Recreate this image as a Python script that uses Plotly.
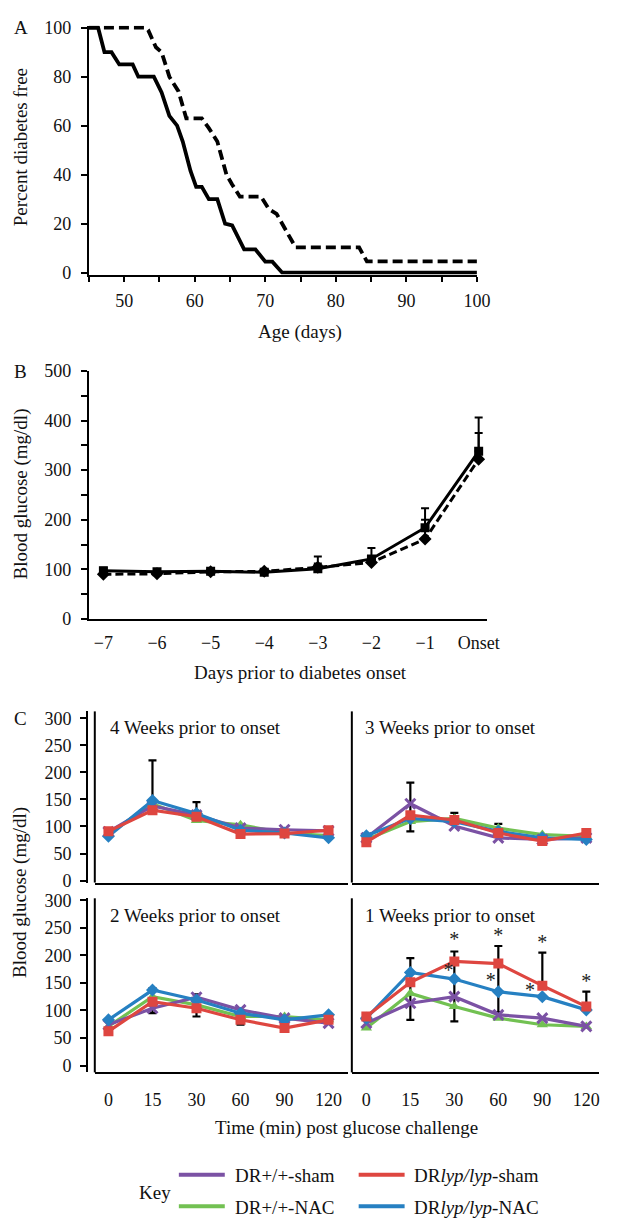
import plotly.graph_objects as go

W, H = 617, 1228
FONT = "Liberation Serif"

def fx(p):
    return p / W

def fy(p):
    return 1 - p / H

# ---------------- Panel A data (Kaplan-Meier style curves) ----------------
a_solid_age = [45, 46.3, 47.2, 48.2, 49.3, 51.2, 52, 54.2, 55.3, 56.4, 57.5, 58.3, 59.4,
               60.2, 61, 62, 63.2, 64.3, 65.3, 67, 68.6, 70, 71, 72.4, 100]
a_solid_pct = [100, 100, 90, 90, 85, 85, 80, 80, 73.6, 64, 60, 53.5, 41.5,
               35, 35, 30, 30, 20, 19.3, 9.5, 9.5, 4.5, 4.5, 0, 0]
a_dash_age = [45, 53.1, 53.4, 54.5, 55.3, 56.4, 57.7, 58.8, 61, 62, 63.2, 64.5, 65.3,
              66.4, 69.4, 70.5, 71.6, 74.3, 83.3, 84.4, 100]
a_dash_pct = [100, 100, 99, 92, 90, 80, 74, 63, 63, 59, 53.5, 40, 36,
              31, 31, 26, 24, 10.3, 10.3, 4.6, 4.6]
a_xtick_vals = [45, 50, 55, 60, 65, 70, 75, 80, 85, 90, 95, 100]
a_xtick_text = ["", "50", "", "60", "", "70", "", "80", "", "90", "", "100"]
a_ytick_vals = [0, 20, 40, 60, 80, 100]

# ---------------- Panel B data ----------------
b_days = ["\u22127", "\u22126", "\u22125", "\u22124", "\u22123", "\u22122", "\u22121", "Onset"]
b_solid = [97, 95, 96, 94, 101, 121, 184, 338]
b_solid_err = [6, 5, 4, 5, 25, 22, 39, 68]
b_dash = [90, 91, 95, 96, 104, 114, 161, 322]
b_dash_err = [4, 4, 4, 4, 8, 10, 39, 53]

# ---------------- Panel C data ----------------
c_times = ["0", "15", "30", "60", "90", "120"]
series_names = ["DR+/+-sham", "DR+/+-NAC", "DRlyp/lyp-sham", "DRlyp/lyp-NAC"]

w4_purple = [90, 138, 121, 97, 94, 92]
w4_green = [86, 142, 111, 103, 88, 83]
w4_blue = [82, 148, 124, 93, 88, 79]
w4_red = [91, 130, 118, 86, 87, 93]

w3_purple = [79, 142, 101, 79, 76, 79]
w3_green = [76, 109, 115, 97, 85, 82]
w3_blue = [83, 115, 109, 91, 79, 76]
w3_red = [71, 121, 112, 88, 73, 88]

w2_purple = [74, 104, 124, 101, 86, 77]
w2_green = [71, 125, 110, 89, 89, 83]
w2_blue = [83, 137, 119, 95, 83, 92]
w2_red = [62, 116, 104, 83, 68, 83]

w1_purple = [77, 113, 125, 92, 86, 71]
w1_green = [68, 131, 107, 86, 74, 71]
w1_blue = [86, 169, 157, 134, 125, 101]
w1_red = [89, 151, 189, 185, 145, 107]

# error bars (index of time point, centre, plus, minus)
w4_err_x = [1, 2]
w4_err_y = [148, 124]
w4_err_plus = [74, 21]
w4_err_minus = [0, 0]

w3_err_x = [1, 2, 3]
w3_err_y = [121, 115, 97]
w3_err_plus = [60, 10, 8]
w3_err_minus = [30, 0, 0]

w2_err_x = [1, 2, 3]
w2_err_y = [116, 110, 83]
w2_err_plus = [24, 19, 0]
w2_err_minus = [21, 21, 9]

w1_err_x = [0, 1, 2, 3, 4, 5]
w1_err_y = [89, 151, 189, 185, 145, 107]
w1_err_plus = [6, 44, 18, 32, 60, 27]
w1_err_minus = [0, 68, 109, 88, 0, 0]

# significance asterisks (1 week panel)
star_x = [2, 3, 4, 5, 1.87, 2.83, 3.72]
star_y = [226, 233, 220, 150, 169, 151, 134]

PURPLE = "#7B52A4"
GREEN = "#72C152"
BLUE = "#2680C2"
RED = "#DE4640"

fig = go.Figure()

# ---------------- Panel A ----------------
fig.add_trace(go.Scatter(x=a_dash_age, y=a_dash_pct, mode="lines",
                         line=dict(color="black", width=3.8, dash="10px,5px"),
                         xaxis="x", yaxis="y"))
fig.add_trace(go.Scatter(x=a_solid_age, y=a_solid_pct, mode="lines",
                         line=dict(color="black", width=3.8),
                         xaxis="x", yaxis="y"))

# ---------------- Panel B ----------------
bx = list(range(len(b_days)))
fig.add_trace(go.Scatter(x=bx, y=b_dash, mode="lines+markers",
                         line=dict(color="black", width=3, dash="8px,4px"),
                         marker=dict(symbol="diamond", size=10, color="black"),
                         error_y=dict(type="data", array=b_dash_err, arrayminus=[0] * 8,
                                      color="black", thickness=2, width=4),
                         xaxis="x2", yaxis="y2"))
fig.add_trace(go.Scatter(x=bx, y=b_solid, mode="lines+markers",
                         line=dict(color="black", width=3),
                         marker=dict(symbol="square", size=9, color="black"),
                         error_y=dict(type="data", array=b_solid_err, arrayminus=[0] * 8,
                                      color="black", thickness=2, width=4),
                         xaxis="x2", yaxis="y2"))

# ---------------- Panel C ----------------
cx = list(range(len(c_times)))
panels = [
    ("x3", "y3", w4_purple, w4_green, w4_blue, w4_red, w4_err_x, w4_err_y, w4_err_plus, w4_err_minus),
    ("x4", "y4", w3_purple, w3_green, w3_blue, w3_red, w3_err_x, w3_err_y, w3_err_plus, w3_err_minus),
    ("x5", "y5", w2_purple, w2_green, w2_blue, w2_red, w2_err_x, w2_err_y, w2_err_plus, w2_err_minus),
    ("x6", "y6", w1_purple, w1_green, w1_blue, w1_red, w1_err_x, w1_err_y, w1_err_plus, w1_err_minus),
]
for xa, ya, pu, gr, bl, rd, ex, ey, ep, em in panels:
    fig.add_trace(go.Scatter(x=ex, y=ey, mode="markers", marker=dict(size=1, opacity=0),
                             error_y=dict(type="data", array=ep, arrayminus=em,
                                          color="black", thickness=2.2, width=4),
                             xaxis=xa, yaxis=ya))
    for vals, col, sym in [(gr, GREEN, "triangle-up"), (pu, PURPLE, "x-thin-open"),
                           (bl, BLUE, "diamond"), (rd, RED, "square")]:
        mk = dict(symbol=sym, size=10, color=col)
        if sym == "x-thin-open":
            mk = dict(symbol=sym, size=10, color=col, line=dict(width=3, color=col))
        fig.add_trace(go.Scatter(x=cx, y=vals, mode="lines+markers",
                                 line=dict(color=col, width=3.2), marker=mk,
                                 xaxis=xa, yaxis=ya))

fig.add_trace(go.Scatter(x=star_x, y=star_y, mode="text", text=["*"] * len(star_x),
                         textfont=dict(family=FONT, size=20, color="#222"),
                         textposition="middle center", xaxis="x6", yaxis="y6"))

tickfont = dict(family=FONT, size=18, color="#111")
axline = dict(showline=True, linecolor="black", linewidth=2, showgrid=False, zeroline=False)

lay = dict(
    width=W, height=H, margin=dict(l=0, r=0, t=0, b=0),
    paper_bgcolor="white", plot_bgcolor="white", showlegend=False,
    font=dict(family=FONT, size=18, color="#111"),
)

# A axes
lay["xaxis"] = dict(domain=[fx(91), fx(488)], range=[45, 100], anchor="y",
                    tickmode="array", tickvals=a_xtick_vals, ticktext=a_xtick_text,
                    ticks="outside", ticklen=5, tickwidth=2, tickcolor="black",
                    tickfont=tickfont, ticklabelstandoff=4, **axline)
lay["yaxis"] = dict(domain=[fy(269), fy(16)], range=[-0.8, 100.8], anchor="x",
                    tickmode="array", tickvals=a_ytick_vals,
                    ticks="outside", ticklen=6, tickwidth=2, tickcolor="black",
                    tickfont=tickfont, ticklabelstandoff=6, **axline)
# B axes
lay["xaxis2"] = dict(domain=[fx(91), fx(498)], range=[-0.27, 7.15], anchor="y2",
                     tickmode="array", tickvals=bx, ticktext=b_days, ticks="",
                     tickfont=tickfont, ticklabelstandoff=6, **axline)
lay["yaxis2"] = dict(domain=[fy(619), fy(367)], range=[0, 500], anchor="x2",
                     tickmode="array", tickvals=[0, 100, 200, 300, 400, 500],
                     ticks="outside", ticklen=6, tickwidth=2, tickcolor="black",
                     minor=dict(tickvals=[50, 150, 250, 350, 450], ticks="outside",
                                ticklen=6, tickwidth=2, tickcolor="black"),
                     tickfont=tickfont, ticklabelstandoff=6, **axline)
# C axes
left_dom = [fx(97), fx(356)]
right_dom = [fx(360), fx(613)]
top_dom = [fy(887), fy(713)]
bot_dom = [fy(1080), fy(903)]
top_rng = [-3.6, 312.7]
bot_rng = [-12.5, 303.6]
cy_ticks = [0, 50, 100, 150, 200, 250, 300]

lay["xaxis3"] = dict(domain=left_dom, range=[-0.31, 5.44], anchor="y3",
                     showticklabels=False, ticks="", **axline)
lay["yaxis3"] = dict(domain=top_dom, range=top_rng, anchor="free", position=fx(89),
                     tickmode="array", tickvals=cy_ticks, ticks="outside", ticklen=6,
                     tickwidth=2, tickcolor="black", tickfont=tickfont,
                     ticklabelstandoff=5, **axline)
lay["xaxis4"] = dict(domain=right_dom, range=[-0.33, 5.29], anchor="y4",
                     showticklabels=False, ticks="", **axline)
lay["yaxis4"] = dict(domain=top_dom, range=top_rng, anchor="x4", visible=False)
lay["xaxis5"] = dict(domain=left_dom, range=[-0.31, 5.44], anchor="y5",
                     tickmode="array", tickvals=cx, ticktext=c_times, ticks="",
                     tickfont=tickfont, ticklabelstandoff=10, **axline)
lay["yaxis5"] = dict(domain=bot_dom, range=bot_rng, anchor="free", position=fx(89),
                     tickmode="array", tickvals=cy_ticks, ticks="outside", ticklen=6,
                     tickwidth=2, tickcolor="black", tickfont=tickfont,
                     ticklabelstandoff=5, **axline)
lay["xaxis6"] = dict(domain=right_dom, range=[-0.33, 5.29], anchor="y6",
                     tickmode="array", tickvals=cx, ticktext=c_times, ticks="",
                     tickfont=tickfont, ticklabelstandoff=10, **axline)
lay["yaxis6"] = dict(domain=bot_dom, range=bot_rng, anchor="x6", visible=False)

fig.update_layout(**lay)

# panel left borders
for xa, ya in [("x3", "y3"), ("x4", "y4"), ("x5", "y5"), ("x6", "y6")]:
    fig.add_shape(type="line", xref=f"{xa} domain", yref=f"{ya} domain",
                  x0=0, x1=0, y0=0, y1=1, line=dict(color="black", width=2))

def ann(text, x, y, xanchor="center", angle=0, size=19):
    fig.add_annotation(text=text, xref="paper", yref="paper", x=fx(x), y=fy(y),
                       xanchor=xanchor, yanchor="middle", showarrow=False,
                       textangle=angle, font=dict(family=FONT, size=size, color="#111"))

ann("A", 12, 18, xanchor="left")
ann("B", 12, 367, xanchor="left")
ann("C", 12, 720, xanchor="left")
ann("Percent diabetes free", 21, 140, angle=-90)
ann("Age (days)", 307, 327)
ann("Blood glucose (mg/dl)", 21, 492, angle=-90)
ann("Days prior to diabetes onset", 307, 673)
ann("Blood glucose (mg/dl)", 21, 897, angle=-90)
ann("Time (min) post glucose challenge", 355, 1137)
ann("4 Weeks prior to onset", 110, 729, xanchor="left")
ann("3 Weeks prior to onset", 371, 729, xanchor="left")
ann("2 Weeks prior to onset", 110, 920, xanchor="left")
ann("1 Weeks prior to onset", 371, 920, xanchor="left")

# manual key
ann("Key", 159, 1202)
legend_rows = [
    (PURPLE, "DR+/+-sham", 183, 1184),
    (GREEN, "DR+/+-NAC", 183, 1216),
    (RED, "DR<i>lyp/lyp</i>-sham", 367, 1184),
    (BLUE, "DR<i>lyp/lyp</i>-NAC", 367, 1216),
]
for col, label, x0, yy in legend_rows:
    fig.add_shape(type="line", xref="paper", yref="paper", x0=fx(x0), x1=fx(x0 + 47),
                  y0=fy(yy), y1=fy(yy), line=dict(color=col, width=4))
    ann(label, x0 + 55, yy + 1, xanchor="left")

fig.write_html("out.html", config={"displayModeBar": False},
               post_script="document.body.style.margin='0';document.body.style.overflow='hidden';")
